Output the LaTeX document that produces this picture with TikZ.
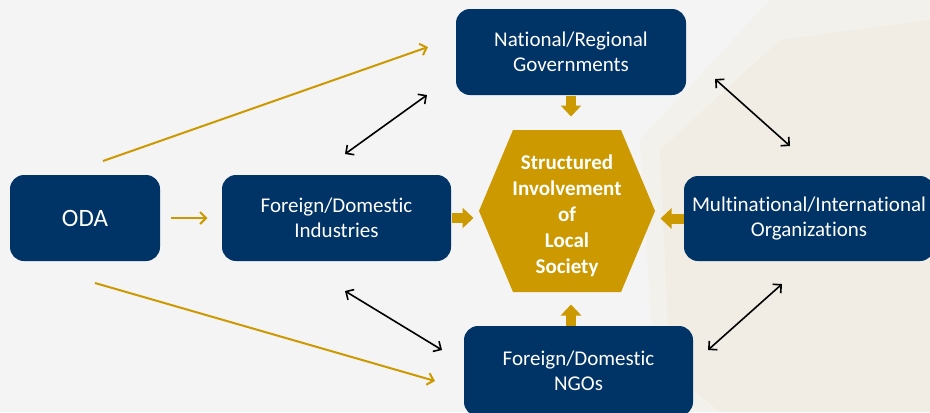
\documentclass[tikz,border=0pt]{standalone}
\usepackage{fontspec}
\setmainfont[RawFeature={-liga}]{Carlito}
\usetikzlibrary{arrows.meta}

\definecolor{navy}{RGB}{0,51,102}
\definecolor{gold}{RGB}{204,153,0}
\definecolor{bggray}{RGB}{244,244,244}
\definecolor{sand}{RGB}{241,237,228}
\definecolor{sandlight}{RGB}{243,241,235}

\tikzset{every picture/.style={line width=0.75pt}}
\tikzset{
  navybox/.style={rectangle, rounded corners=10.5pt, fill=navy, text=white, align=center,
    font=\fontsize{15.75}{18.75}\selectfont, inner sep=0pt},
  hexnode/.style={rectangle, minimum width=132pt, minimum height=121.5pt, text=white, align=center,
    font=\bfseries\fontsize{15.75}{19.5}\selectfont, inner sep=0pt,
    path picture={\fill[gold] (path picture bounding box.west)
      -- ([xshift=25.5pt]path picture bounding box.north west)
      -- ([xshift=-25.5pt]path picture bounding box.north east)
      -- (path picture bounding box.east)
      -- ([xshift=-25.5pt]path picture bounding box.south east)
      -- ([xshift=25.5pt]path picture bounding box.south west) -- cycle;}},
  blockarrow/.style={gold, line width=7.5pt, -{Triangle[width=15pt,length=8.25pt]}},
  flowarrow/.style={gold, line width=1.5pt, -{Straight Barb[length=4.5pt,width=9pt]}},
  linkarrow/.style={black, line width=1.2pt, {Straight Barb[length=4.5pt,width=9pt]}-{Straight Barb[length=4.5pt,width=9pt]}}
}

\begin{document}
\begin{tikzpicture}[x=0.75pt,y=0.75pt,yscale=-1,xscale=1]
%background
\fill[bggray] (0,0) rectangle (930,412);
\useasboundingbox (0,0) rectangle (930,412);
\fill[sandlight] (640,140) -- (770,0) -- (930,0) -- (930,412) -- (690,412) -- (655,385) -- cycle;
\fill[sand] (660,150) -- (780,40) -- (930,20) -- (930,412) -- (720,412) -- (670,370) -- cycle;

%boxes
\node[navybox, minimum width=112.5pt, minimum height=64.5pt, font=\fontsize{18.75}{22}\selectfont] (oda) at (85,218) {ODA};
\node[navybox, minimum width=171.75pt, minimum height=64.5pt] (industries) at (336.5,218) {Foreign/Domestic\\Industries};
\node[navybox, minimum width=172.5pt, minimum height=64.5pt] (govts) at (571,52) {National/Regional\\Governments};
\node[navybox, minimum width=187.5pt, minimum height=63.75pt] (intorgs) at (809,218.5) {Multinational/International\\Organizations};
\node[navybox, minimum width=171.75pt, minimum height=67.5pt] (ngos) at (578.5,371) {Foreign/Domestic\\NGOs};

%centre
\node[hexnode] (society) at (567,211) {\mbox{}\\[-1pt]Structured\\Involvement\\of\\Local\\Society};

%arrows into the centre
\draw[blockarrow, shorten >=9.75pt] (govts.south) -- (govts.south |- society.north);
\draw[blockarrow, shorten >=3.75pt] (industries.east) -- (industries.east -| society.west);
\draw[blockarrow, shorten >=3.75pt] (intorgs.west) -- (intorgs.west -| society.east);
\draw[blockarrow, shorten >=9pt] (ngos.north -| govts.south) -- (govts.south |- society.south);

%ODA arrows
\coordinate (odaup) at (103,161);
\coordinate (govtsin) at (428,47);
\coordinate (odadown) at (95,283);
\coordinate (ngosin) at (435,381);
\draw[flowarrow, shorten <=7.5pt, shorten >=10.5pt] (oda.east) -- (industries.west);
\draw[flowarrow] (odaup) -- (govtsin);
\draw[flowarrow] (odadown) -- (ngosin);

%links between actors
\coordinate (l1a) at (345,154);
\coordinate (l1b) at (427,95);
\coordinate (l2a) at (345,291);
\coordinate (l2b) at (442,350);
\coordinate (l3a) at (715,79);
\coordinate (l3b) at (790,146);
\coordinate (l4a) at (708,350);
\coordinate (l4b) at (782,284);
\draw[linkarrow] (l1a) -- (l1b);
\draw[linkarrow] (l2a) -- (l2b);
\draw[linkarrow] (l3a) -- (l3b);
\draw[linkarrow] (l4a) -- (l4b);

\end{tikzpicture}
\end{document}
